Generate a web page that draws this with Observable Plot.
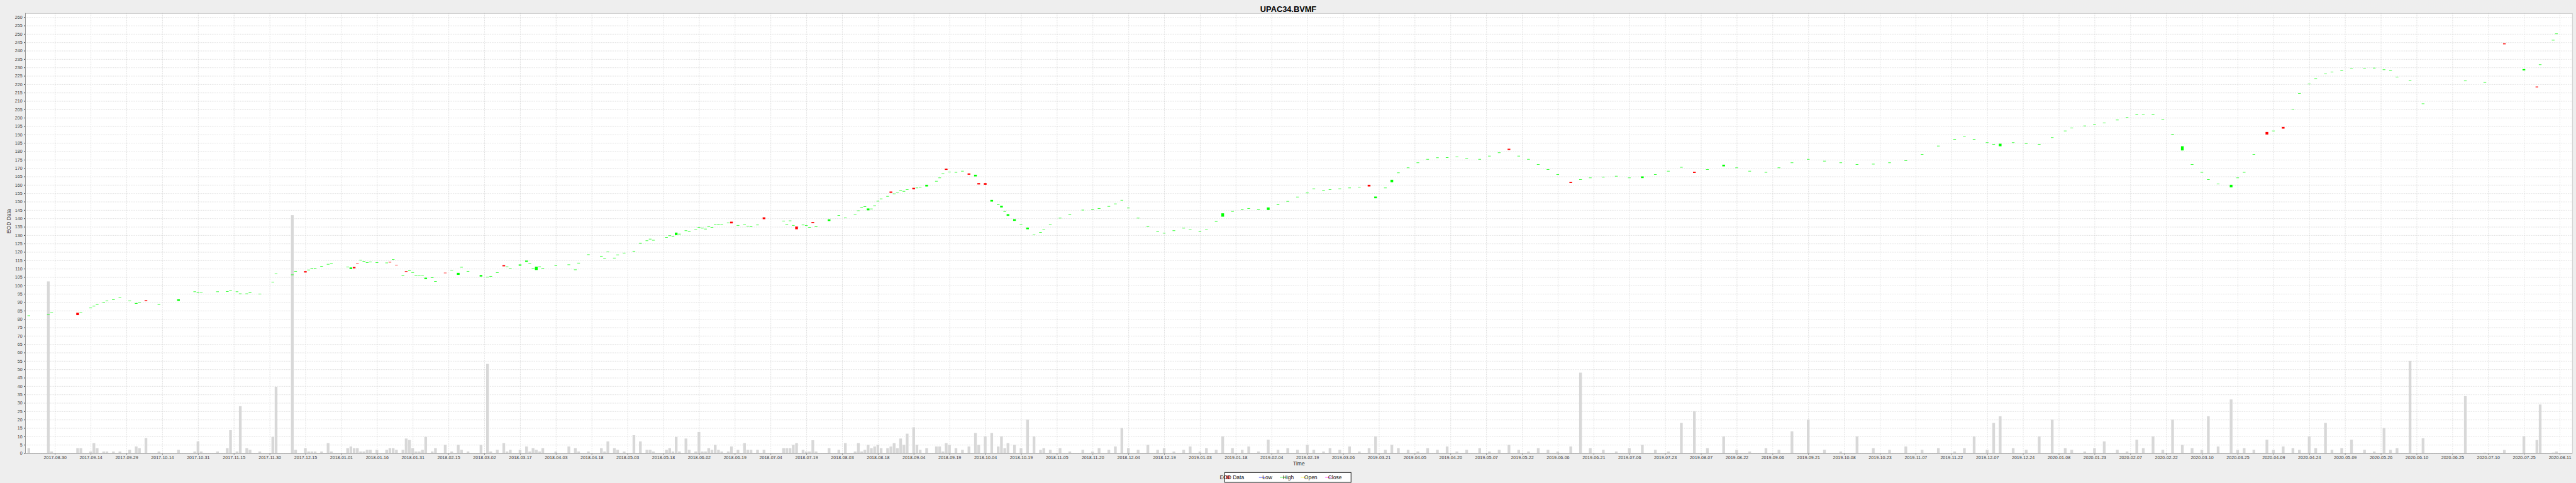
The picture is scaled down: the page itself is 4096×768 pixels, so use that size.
<!DOCTYPE html>
<html><head><meta charset="utf-8">
<script src="https://cdn.jsdelivr.net/npm/d3@7"></script>
<script src="https://cdn.jsdelivr.net/npm/@observablehq/plot@0.6"></script>
<style>
html,body{margin:0;padding:0;background:#eeeeee;}
#chart{width:4096px;height:768px;}
svg{display:block;}
</style></head><body><div id="chart"></div>
<script>
const chartTitle = "UPAC34.BVMF";
const yLabel = "EOD Data";
const xLabel = "Time";
const legendItems = ["EOD Data", "Low", "High", "Open", "Close"];
const legendColors = ["#ff5555", "#5555ff", "#55ff55", "#ffff55", "#ff55ff"];

// x tick labels (one every 11 trading sessions)
const tickLabels = ["2017-08-30","2017-09-14","2017-09-29","2017-10-14","2017-10-31","2017-11-15","2017-11-30","2017-12-15",
"2018-01-01","2018-01-16","2018-01-31","2018-02-15","2018-03-02","2018-03-17","2018-04-03","2018-04-18","2018-05-03",
"2018-05-18","2018-06-02","2018-06-19","2018-07-04","2018-07-19","2018-08-03","2018-08-18","2018-09-04","2018-09-19",
"2018-10-04","2018-10-19","2018-11-05","2018-11-20","2018-12-04","2018-12-19","2019-01-03","2019-01-18","2019-02-04",
"2019-02-19","2019-03-06","2019-03-21","2019-04-05","2019-04-20","2019-05-07","2019-05-22","2019-06-06","2019-06-21",
"2019-07-06","2019-07-23","2019-08-07","2019-08-22","2019-09-06","2019-09-21","2019-10-08","2019-10-23","2019-11-07",
"2019-11-22","2019-12-07","2019-12-24","2020-01-08","2020-01-23","2020-02-07","2020-02-22","2020-03-10","2020-03-25",
"2020-04-09","2020-04-24","2020-05-09","2020-05-26","2020-06-10","2020-06-25","2020-07-10","2020-07-25","2020-08-11"];

// session = weekday number counted from 2017-08-30 (weekends removed, as in the chart's timeline)
const session = [
-8,-2,-1,7,8,11,12,13,15,16,18,20,23,25,26,28,32,38,43,44,45,50,53,54,56,57,59,60,
63,67,68,73,74,77,78,79,80,82,84,85,90,91,92,93,94,95,96,97,99,102,103,104,105,107,108,109,110,111,112,113,114,116,117,120,122,124,125,127,131,
133,134,136,138,139,140,143,145,146,147,148,149,150,154,158,160,161,164,168,169,170,172,173,175,178,180,
182,183,184,188,189,190,191,192,194,195,197,198,199,200,201,202,203,
204,205,207,208,210,212,213,214,216,218,224,225,226,227,228,230,231,232,233,234,238,241,243,246,247,248,249,250,251,252,253,254,
256,257,258,259,260,261,262,264,265,266,268,271,272,273,274,275,
277,279,281,283,284,286,288,290,291,292,293,295,297,299,301,303,304,306,309,312,316,319,321,324,326,328,330,333,336,339,341,344,347,349,352,354,
357,359,362,365,367,370,373,376,379,382,385,387,390,392,395,398,401,404,406,409,411,413,416,419,422,425,428,431,434,438,441,444,447,450,453,456,459,462,466,469,
472,476,480,484,488,492,496,500,504,508,513,517,521,526,530,534,539,544,549,554,559,564,569,574,579,584,587,590,594,596,598,
602,606,610,614,618,620,624,627,630,634,637,640,642,645,648,651,654,657,660,662,665,669,671,673,676,680,682,685,688,690,693,695,698,700,703,706,710,713,716,718,720,724,
728,741,747,753,759,763,764,768,769];
const open = [
81.8,82.5,83.6,83.7,83.6,86.4,87.5,88.5,89.8,90.7,91.4,92.8,90.7,89.1,89.6,91.2,88.5,90.8,96.1,95.6,95.9,96.1,96.3,96.8,96.1,94.9,94.9,95.5,
94.7,101.8,106.8,106.2,108.3,108.5,109.1,110.1,110.1,111.2,112.5,113.1,110.8,109.8,111.0,113.2,114.9,114.2,113.5,113.8,113.5,113.3,114.0,115.3,112.3,105.6,108.5,108.6,107.6,105.8,105.9,106.0,103.8,104.5,102.2,107.5,109.0,106.3,110.7,108.3,105.3,
104.8,105.3,107.5,112.1,111.0,109.9,111.8,114.1,112.9,109.9,109.2,111.0,110.1,111.7,112.2,109.2,113.2,118.2,117.3,116.0,119.8,116.2,118.1,119.2,120.3,125.0,
126.5,127.5,126.8,128.5,129.5,129.0,130.0,130.5,132.5,132.0,133.0,134.5,134.0,133.5,135.0,134.5,136.0,
136.3,136.0,137.2,138.0,135.7,136.0,135.2,134.9,135.9,140.6,138.3,136.2,138.4,135.7,135.1,135.9,135.6,134.5,137.8,134.9,138.4,141.6,140.2,142.4,144.4,146.4,146.9,144.8,145.5,147.4,150.1,151.5,
153.0,156.0,154.5,155.5,156.5,156.0,157.0,158.2,158.0,158.5,159.0,162.0,164.0,166.5,169.6,167.5,
167.3,168.0,166.8,165.0,161.0,161.0,150.0,148.0,146.5,144.0,141.5,138.5,136.0,133.5,130.0,131.5,133.0,136.0,140.0,142.0,144.8,145.0,145.8,147.0,148.5,150.7,146.0,140.0,135.0,132.0,131.0,132.5,134.0,133.0,132.0,133.0,
138.0,141.0,144.0,145.0,145.8,145.0,145.0,148.0,150.0,152.6,155.0,157.5,156.5,157.0,157.5,158.0,158.5,160.0,152.0,158.0,161.5,167.0,170.0,173.0,175.1,176.0,176.1,176.5,175.5,175.1,177.0,179.0,181.5,177.0,175.1,172.0,169.0,166.0,161.8,163.0,
164.0,164.4,165.0,164.0,164.0,166.0,168.0,170.3,167.8,169.0,171.0,170.0,168.0,167.3,170.0,173.0,175.1,174.0,173.0,172.0,172.2,173.0,174.2,178.0,183.0,187.0,188.9,187.0,185.0,184.0,183.0,
185.0,184.5,184.0,188.0,192.0,193.8,195.0,196.0,196.7,198.5,200.0,201.6,202.0,201.6,199.0,190.0,180.5,172.0,167.3,163.0,160.4,158.5,164.0,167.3,178.0,191.5,192.0,194.5,205.0,214.4,220.0,223.2,226.0,227.1,228.0,229.0,229.0,229.5,228.5,228.0,224.1,222.0,
208.2,221.8,220.9,244.3,228.2,218.6,231.5,246.1,249.9];
const close = [
81.8,82.5,83.6,82.3,83.6,86.4,87.5,88.5,89.8,90.7,91.4,92.8,90.7,89.5,89.6,90.7,88.5,91.7,96.1,95.6,95.9,96.1,96.3,96.8,96.1,94.9,94.9,95.5,
94.7,101.8,106.8,106.2,108.3,107.7,109.1,110.1,110.1,111.2,112.5,113.1,110.8,110.7,110.2,113.0,114.9,114.2,113.5,113.8,113.5,113.3,113.7,115.3,112.0,105.6,108.1,108.6,107.6,105.8,105.9,106.0,104.6,104.5,102.2,107.3,109.0,107.5,110.7,108.3,106.2,
104.8,105.3,107.5,111.4,111.0,109.9,112.5,114.8,112.9,109.9,111.2,111.0,110.1,111.7,112.2,109.2,113.2,118.2,117.3,116.0,119.8,116.2,118.1,119.2,120.3,125.4,
126.5,127.5,126.8,128.5,129.5,129.0,131.5,130.5,132.5,132.0,133.0,134.5,134.0,133.5,135.0,134.5,136.0,
136.3,136.0,137.2,137.0,135.7,136.0,135.2,134.9,135.9,139.5,138.3,136.2,138.4,135.7,133.5,135.9,135.6,134.5,137.2,134.9,139.4,141.6,140.2,142.4,144.4,146.4,146.9,145.9,145.5,147.4,150.1,151.5,
153.0,155.2,154.5,155.5,156.5,156.0,157.0,157.3,158.0,158.5,160.0,162.0,164.0,166.5,168.9,167.5,
167.3,168.0,166.0,166.0,160.2,160.0,151.0,148.0,147.5,144.0,142.5,139.5,136.0,134.5,130.0,131.5,133.0,136.0,140.0,142.0,144.8,145.0,145.8,147.0,148.5,150.7,146.0,140.0,135.0,132.0,131.0,132.5,134.0,133.0,132.0,133.0,
138.0,143.0,144.0,145.0,145.8,145.0,146.5,148.0,150.0,152.6,155.0,157.5,156.5,157.0,157.5,158.0,158.5,159.0,153.0,158.0,163.0,167.0,170.0,173.0,175.1,176.0,176.1,176.5,175.5,175.1,177.0,179.0,180.8,177.0,175.1,172.0,169.0,166.0,161.1,163.0,
164.0,164.4,165.0,164.0,165.0,166.0,168.0,170.3,167.1,169.0,172.0,170.0,168.0,167.3,170.0,173.0,175.1,174.0,173.0,172.0,172.2,173.0,174.2,178.0,183.0,187.0,188.9,187.0,185.0,184.0,184.5,
185.0,184.5,184.0,188.0,192.0,193.8,195.0,196.0,196.7,198.5,200.0,201.6,202.0,201.6,199.0,190.0,183.0,172.0,167.3,163.0,160.4,160.0,164.0,167.3,178.0,190.0,192.0,193.5,205.0,214.4,220.0,223.2,226.0,227.1,228.0,229.0,229.0,229.5,228.5,228.0,224.1,222.0,
208.2,221.8,220.9,243.8,229.0,218.1,231.5,246.1,249.9];
// volume, in the units of the price axis as drawn
const volume = [
3,102.4,1,3,3,1,6,3,1,1,1,1,2,4,3,9,1,2,1,7,1,1,3,13.7,1,28,3,2,
1,9.7,39.6,141.9,2,3,1,1,1,1,6,1,3,4,3,3,1,1,2,2,2,2,3,3,2,2,8.7,7.8,3,1,1,2,9.7,1,3,5,1,5,2,1,5,
53.2,1,2,6,1,2,2,4,1,3,2,1,3,1,4,3,1,1,3,1,7,3,2,1,10.7,7,
2,2,1,2,3,1,9.7,1,8.7,2,1,12.6,1,1,3,2,5,
2,1,1,4,2,6,2,2,2,2,3,3,3,5,6,2,1,1,7.7,1,3,2,6,1,6,1,2,5,3,4,5,3,
3,4,6,3,8.7,5,11.6,15.4,5,2,3,4,4,1,6,5,
3,2,4,12,5,10,12,4,10,3,6,5,3,20,10,2,3,2,3,1,2,1,3,2,4,15,3,2,5,2,3,1,2,4,1,3,
2,10,3,2,4,1,8,2,3,2,5,2,1,3,2,4,1,3,10,2,5,3,2,1,3,2,4,1,2,3,1,2,5,2,1,3,2,1,4,48,
3,2,1,3,5,2,1,18,25,3,10,2,1,3,2,13,20,2,1,10,3,2,4,2,3,1,3,10,2,18,22,
3,2,10,20,3,2,1,3,7,2,1,8,3,10,2,20,5,3,2,22,4,32,2,3,2,8,2,4,3,2,10,3,18,2,3,8,2,1,15,2,3,55,
8.9,34,0.3,1.9,10.1,7.8,29,0.3,1];

const rows = session.map((s, i) => ({s, open: open[i], close: close[i], volume: volume[i]}));
const candles = rows.filter(d => d.open != null && d.close != null);
const up = candles.filter(d => d.close >= d.open);
const down = candles.filter(d => d.close < d.open);

const tickPos = tickLabels.map((_, i) => i * 11);
const yTicks = d3.range(0, 261, 5);
const half = 0.42;
const minBody = 0.28;

const W = 4096, H = 768;
const mL = 40.0, mR = 6.3, mT = 20.8, mB = 47.5;
const font = "'Liberation Sans', Arial, Helvetica, sans-serif";

const plot = Plot.plot({
  width: W, height: H,
  marginLeft: mL, marginRight: mR, marginTop: mT, marginBottom: mB,
  style: {background: "transparent", fontFamily: font, fontSize: "7.1px", color: "#444", overflow: "visible"},
  x: {type: "linear", domain: [-9.13, 773.8], ticks: tickPos, tickFormat: d => tickLabels[Math.round(d / 11)], tickSize: 2.1, tickPadding: 1.8, label: null},
  y: {domain: [0, 262.4], ticks: yTicks, tickSize: 2, tickPadding: 2.9, label: null},
  marks: [
    Plot.frame({fill: "white", stroke: null}),
    Plot.ruleX(tickPos, {stroke: "#d0d0d0", strokeWidth: 0.711, strokeDasharray: "1.4,1.4"}),
    Plot.ruleY(yTicks, {stroke: "#d0d0d0", strokeWidth: 0.711, strokeDasharray: "1.4,1.4"}),
    Plot.rect(rows, {x1: d => d.s - half, x2: d => d.s + half, y1: 0, y2: "volume", fill: "#d8d8d8"}),
    Plot.rect(up, {x1: d => d.s - half, x2: d => d.s + half, y1: d => d.open, y2: d => Math.max(d.close, d.open + minBody), fill: "#00ff00"}),
    Plot.rect(down, {x1: d => d.s - half, x2: d => d.s + half, y1: d => d.close, y2: d => Math.max(d.open, d.close + minBody), fill: "#ff0000"}),
    Plot.frame({stroke: "#bdbdbd", strokeWidth: 0.711}),
    Plot.ruleY([0], {stroke: "#9a9a9a", strokeWidth: 1}),
    Plot.ruleX([-9.13], {stroke: "#9a9a9a", strokeWidth: 1}),
    Plot.text([chartTitle], {text: d => d, frameAnchor: "top", dx: 2048 - (mL + (W - mL - mR) / 2), dy: 9.2 - mT, fontSize: 12.8, fontWeight: "bold", fill: "black"}),
    Plot.text([yLabel], {text: d => d, frameAnchor: "left", rotate: -90, dx: 14.2 - mL, fontSize: 8.5, fill: "#333"}),
    Plot.text([xLabel], {text: d => d, frameAnchor: "bottom", dy: 739.6 - (H - mB), fontSize: 8.5, fill: "#333"})
  ]
});

document.getElementById("chart").appendChild(plot);

// legend box at the bottom
const svg = d3.select(plot);
const lg = svg.append("g").attr("font-family", font).attr("font-size", 8.5);
lg.append("rect").attr("x", 1947.4).attr("y", 751.3).attr("width", 200.8).attr("height", 15.7)
  .attr("fill", "white").attr("stroke", "black").attr("stroke-width", 0.9);
const itemX = [1949.6, 2001.8, 2035.2, 2068.4, 2107.1];
const textX = [1958.8, 2015.0, 2048.4, 2084.2, 2122.6];
const yMid = 759.1;
legendItems.forEach((name, i) => {
  if (i === 0) {
    lg.append("rect").attr("x", itemX[i]).attr("y", yMid - 2.9).attr("width", 5.7).attr("height", 5.6).attr("fill", legendColors[i]);
  } else {
    lg.append("line").attr("x1", itemX[i]).attr("x2", itemX[i] + 10.2).attr("y1", yMid).attr("y2", yMid)
      .attr("stroke", legendColors[i]).attr("stroke-width", 0.9);
  }
  lg.append("text").attr("x", textX[i]).attr("y", yMid).attr("dy", "0.35em").attr("fill", "#111").text(name);
});
</script></body></html>
